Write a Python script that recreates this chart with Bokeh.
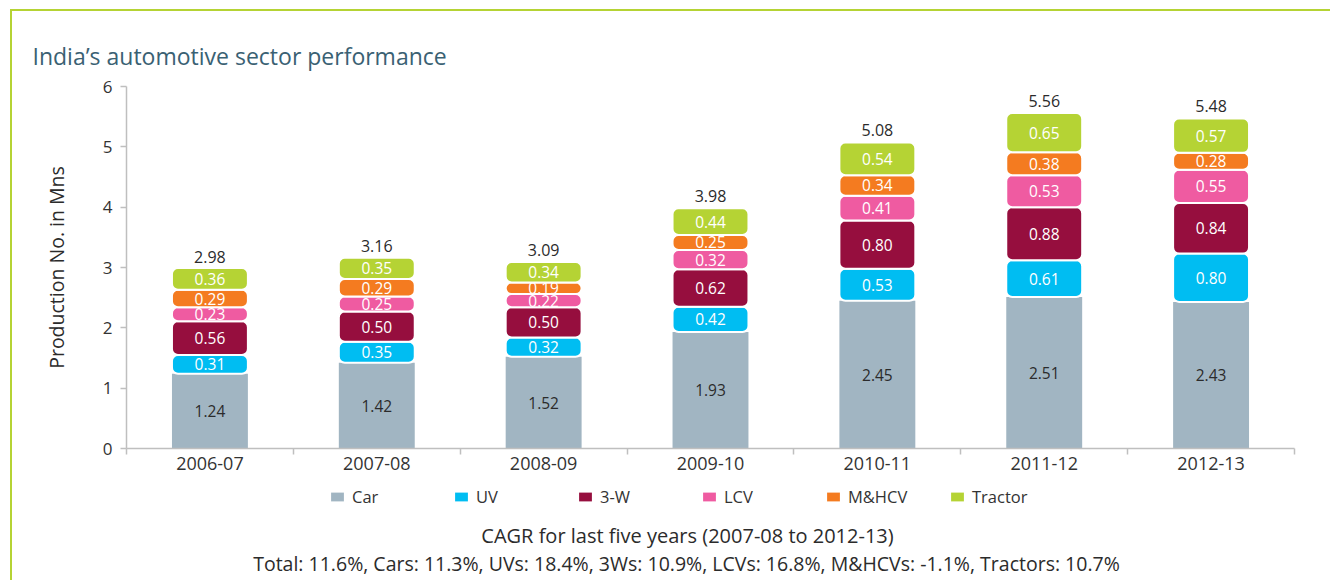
from bokeh.plotting import figure
from bokeh.models import ColumnDataSource, FixedTicker, Legend, LegendItem, Label, Range1d, LinearAxis
from bokeh.layouts import column
from bokeh.embed import file_html
from bokeh.resources import INLINE
from bokeh.core.properties import value
import numpy as np

years = ["2006-07", "2007-08", "2008-09", "2009-10", "2010-11", "2011-12", "2012-13"]
car = [1.24, 1.42, 1.52, 1.93, 2.45, 2.51, 2.43]
uv = [0.31, 0.35, 0.32, 0.42, 0.53, 0.61, 0.80]
three_w = [0.56, 0.50, 0.50, 0.62, 0.80, 0.88, 0.84]
lcv = [0.23, 0.25, 0.22, 0.32, 0.41, 0.53, 0.55]
mhcv = [0.29, 0.29, 0.19, 0.25, 0.34, 0.38, 0.28]
tractor = [0.36, 0.35, 0.34, 0.44, 0.54, 0.65, 0.57]
totals = [2.98, 3.16, 3.09, 3.98, 5.08, 5.56, 5.48]
series_names = ["Car", "UV", "3-W", "LCV", "M&HCV", "Tractor"]
series_colors = ["#a1b5c2", "#00bdf2", "#960e3e", "#ef5ba1", "#f47b20", "#b5d334"]
y_ticks = [0, 1, 2, 3, 4, 5, 6]
chart_title = "India\u2019s automotive sector performance"
y_label = "Production No. in Mns"
cagr_title = "CAGR for last five years (2007-08 to 2012-13)"
cagr_text = "Total: 11.6%, Cars: 11.3%, UVs: 18.4%, 3Ws: 10.9%, LCVs: 16.8%, M&HCVs: -1.1%, Tractors: 10.7%"

FONT = "Open Sans"
BORDER = "2px solid #b5d334"
series = [car, uv, three_w, lcv, mhcv, tractor]
n = len(years)
xs = np.arange(n) + 0.5

# ---------------- main chart ----------------
p = figure(width=1320, height=473, output_backend="svg", toolbar_location=None,
           x_range=Range1d(0, n), y_range=Range1d(0, 6),
           min_border_left=114, min_border_right=38, min_border_top=75, min_border_bottom=36)
p.outline_line_color = None
p.xgrid.visible = False
p.ygrid.visible = False
p.styles = {"border-top": BORDER, "border-left": BORDER}

# keep references to the figure's own axes before adding anything else
xa = p.xaxis[0]
ya = p.yaxis[0]

p.title.text = chart_title
p.title.text_font = FONT
p.title.text_font_size = "23px"
p.title.text_font_style = "normal"
p.title.text_color = "#3a6173"
p.title.align = "left"
p.title.offset = -94
p.title.standoff = 30

# empty spacer between the title and the plot area
spacer = LinearAxis(ticker=FixedTicker(ticks=[]), axis_line_color=None,
                    major_tick_line_color=None, minor_tick_line_color=None,
                    major_tick_out=12, major_tick_in=0, minor_tick_out=0, minor_tick_in=0,
                    major_label_standoff=0)
p.add_layout(spacer, "above")

bottom = np.zeros(n)
for i, (name, vals, col) in enumerate(zip(series_names, series, series_colors)):
    vals = np.array(vals)
    top = bottom + vals
    src = ColumnDataSource(dict(x=xs, bottom=bottom, top=top, mid=(bottom + top) / 2,
                                lab=["%.2f" % v for v in vals]))
    if i == 0:
        p.vbar(x="x", bottom="bottom", top="top", width=0.455, source=src,
               fill_color=col, line_color=None)
        tc = "#2b2b2b"
    else:
        p.vbar(x="x", bottom="bottom", top="top", width=0.455, source=src,
               fill_color=col, line_color="white", line_width=2, border_radius=6)
        tc = "white"
    p.text(x="x", y="mid", text="lab", source=src, text_align="center", text_baseline="middle",
           text_color=tc, text_font=value(FONT), text_font_size="15.5px")
    bottom = top

tsrc = ColumnDataSource(dict(x=xs, y=np.array(totals), lab=["%.2f" % t for t in totals]))
p.text(x="x", y="y", text="lab", source=tsrc, text_align="center", text_baseline="alphabetic",
       y_offset=-12, text_color="#2b2b2b", text_font=value(FONT), text_font_size="16px")

xa.ticker = FixedTicker(ticks=list(xs), minor_ticks=list(range(n + 1)))
xa.major_label_overrides = {float(x): y for x, y in zip(xs, years)}
xa.major_tick_line_color = None
xa.major_tick_out = 6
xa.major_tick_in = 0
xa.minor_tick_out = 6
xa.minor_tick_in = 0
xa.minor_tick_line_color = "#bfbfbf"
xa.minor_tick_line_width = 1.5
xa.axis_line_color = "#bfbfbf"
xa.axis_line_width = 1.5
xa.major_label_standoff = 2
xa.major_label_text_font = FONT
xa.major_label_text_font_size = "18px"
xa.major_label_text_color = "#333333"

ya.ticker = FixedTicker(ticks=y_ticks)
ya.minor_tick_line_color = None
ya.major_tick_out = 6
ya.major_tick_in = 0
ya.major_tick_line_color = "#bfbfbf"
ya.major_tick_line_width = 1.5
ya.axis_line_color = "#bfbfbf"
ya.axis_line_width = 1.5
ya.major_label_standoff = 8
ya.major_label_text_font = FONT
ya.major_label_text_font_size = "17px"
ya.major_label_text_color = "#333333"
ya.axis_label = y_label
ya.axis_label_text_font = FONT
ya.axis_label_text_font_size = "19.5px"
ya.axis_label_text_font_style = "normal"
ya.axis_label_text_color = "#2b2b2b"
ya.axis_label_standoff = 30

# ---------------- legend + CAGR notes ----------------
q = figure(width=1320, height=98, output_backend="svg", toolbar_location=None,
           x_range=Range1d(20, 21), y_range=Range1d(20, 21),
           x_axis_location=None, y_axis_location=None, min_border=0)
q.outline_line_color = None
q.xgrid.visible = False
q.ygrid.visible = False
q.styles = {"border-left": BORDER}

items = []
for name, vals, col in zip(series_names, series, series_colors):
    # same series data, entirely outside q's visible range; only used for legend swatches
    r = q.vbar(x=xs, top=vals, width=0.1, fill_color=col, line_color=None)
    items.append(LegendItem(label=name, renderers=[r]))

legend = Legend(items=items, orientation="horizontal", location=(203, 72),
                glyph_width=16, glyph_height=11, label_standoff=7, spacing=0, label_width=101,
                label_text_font=FONT, label_text_font_size="16.5px", label_text_color="#333333",
                border_line_color=None, background_fill_alpha=0, padding=0, margin=0)
q.add_layout(legend)

q.add_layout(Label(x=561, y=45, x_units="screen", y_units="screen", text=cagr_title,
                   text_align="center", text_baseline="middle", text_font=FONT,
                   text_font_size="20px", text_color="#2b2b2b"))
q.add_layout(Label(x=560, y=17, x_units="screen", y_units="screen", text=cagr_text,
                   text_align="center", text_baseline="middle", text_font=FONT,
                   text_font_size="19.5px", text_color="#2b2b2b"))

root = column(p, q, margin=(9, 0, 0, 10), spacing=0)

open("out.html", "w").write(file_html(root, INLINE))
